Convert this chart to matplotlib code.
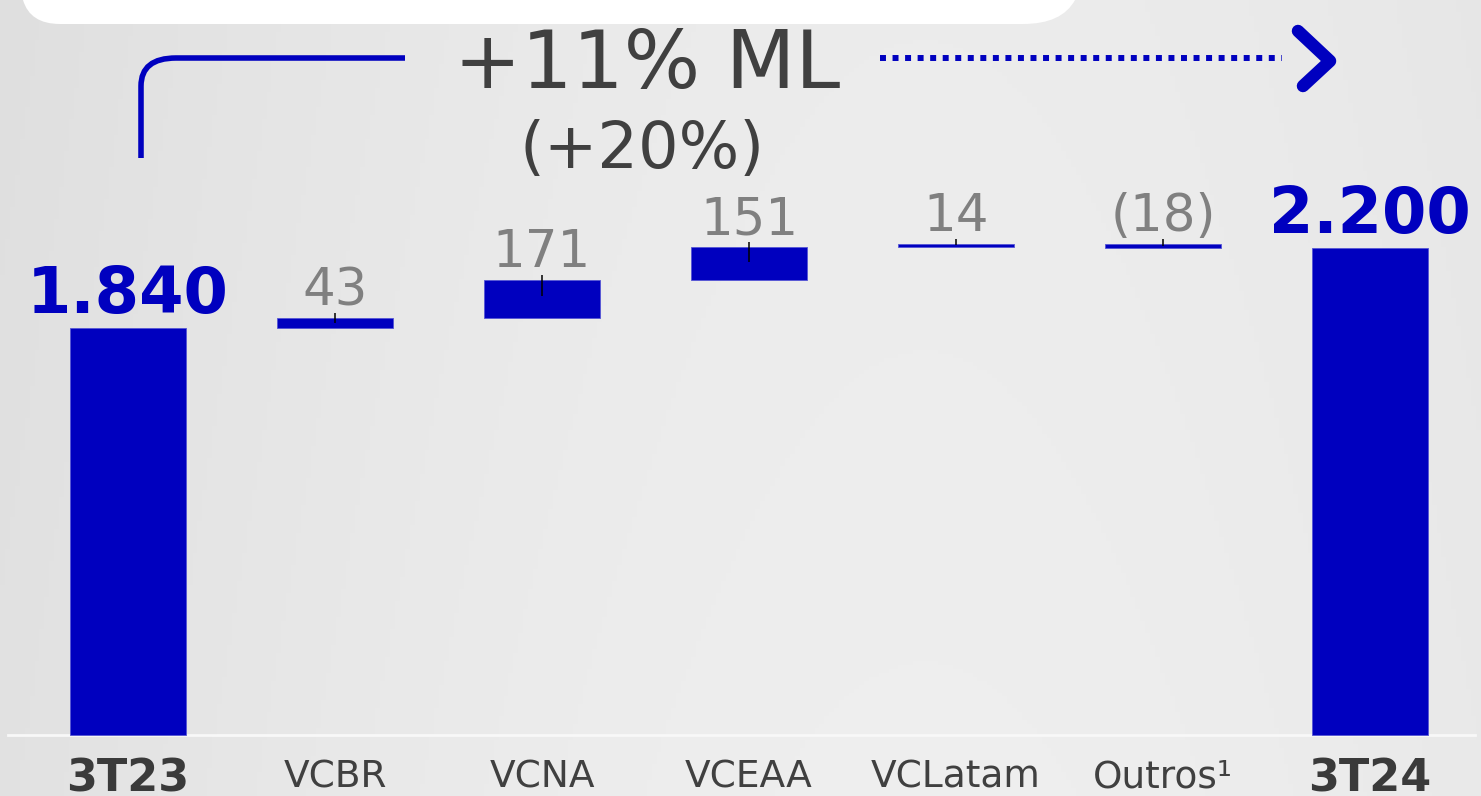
import numpy as np
import matplotlib.pyplot as plt
from matplotlib.path import Path
from matplotlib.patches import PathPatch

categories = ["3T23", "VCBR", "VCNA", "VCEAA", "VCLatam", "Outros\u00b9", "3T24"]
values = [1840, 43, 171, 151, 14, -18, 2200]
is_total = [True, False, False, False, False, False, True]
value_labels = ["1.840", "43", "171", "151", "14", "(18)", "2.200"]
headline = "+11% ML"
subline = "(+20%)"

BLUE = "#0000bf"
W, H = 1481, 796
S = 0.2213          # pixels per unit
BASE = 735          # baseline pixel row
STEP = 207          # pixels between categories
X0 = 128            # pixel of first category

fig = plt.figure(figsize=(W / 100, H / 100), dpi=100)

# background + decorations in pixel space
bg = fig.add_axes([0, 0, 1, 1])
bg.set_xlim(0, W)
bg.set_ylim(H, 0)
bg.axis("off")
gx = np.linspace(0, 1, 300)
gy = np.linspace(0, 1, 200)[:, None]
grad = 0.885 + 0.05 * np.sin(np.pi * gx * 0.8) - 0.01 * (1 - gy)
bg.imshow(np.dstack([grad] * 3).clip(0, 1), extent=[0, W, H, 0], aspect="auto", zorder=0)

# white panel peeking in at the top
box = Path([(23, -5), (23, 0), (30, 24), (60, 24), (1023, 24), (1062, 24), (1075, 0),
            (1075, -5), (23, -5)],
           [Path.MOVETO, Path.LINETO, Path.CURVE3, Path.CURVE3, Path.LINETO,
            Path.CURVE3, Path.CURVE3, Path.LINETO, Path.CLOSEPOLY])
bg.add_patch(PathPatch(box, fc="white", ec="none", zorder=1))

# bracket on the left
verts = [(141, 158), (141, 86), (141, 58), (176, 58), (405, 58)]
codes = [Path.MOVETO, Path.LINETO, Path.CURVE3, Path.CURVE3, Path.LINETO]
bg.add_patch(PathPatch(Path(verts, codes), fc="none", ec=BLUE, lw=4, zorder=2,
                       capstyle="butt"))
# dotted arrow
bg.plot([880, 1282], [58, 58], color=BLUE, lw=4.3, dashes=(1.0, 1.1), zorder=2,
        solid_capstyle="butt", dash_capstyle="butt")
bg.plot([1298, 1330, 1303], [31, 61, 86], color=BLUE, lw=9, solid_capstyle="round",
        solid_joinstyle="round", zorder=2)

bg.text(647, 88, headline, fontsize=58, color="#404040", ha="center", va="baseline", zorder=3)
bg.text(642, 168, subline, fontsize=46, color="#404040", ha="center", va="baseline", zorder=3)

# waterfall
ax = fig.add_axes([0, 0, 1, 1])
ax.patch.set_alpha(0)
ax.set_xlim(-X0 / STEP, (W - X0) / STEP)
ax.set_ylim(-(H - BASE) / S, BASE / S)
ax.axis("off")

px = 1 / S
x = np.arange(len(categories))
running = 0
bottoms, heights = [], []
for v, tot in zip(values, is_total):
    if tot:
        bottoms.append(0)
        heights.append(v)
        running = v
    else:
        bottoms.append(min(running, running + v))
        heights.append(abs(v))
        running += v

ax.bar(x, heights, bottom=bottoms, width=0.556, color=BLUE, edgecolor="#5555d5",
       linewidth=0.6, zorder=3)
ax.axhline(0, xmin=8 / W, xmax=1475 / W, color="#f8f8f8", lw=2, zorder=2)

for i, (b, h, tot, lab) in enumerate(zip(bottoms, heights, is_total, value_labels)):
    top = b + h
    if tot:
        ax.text(i, top + 15 * px, lab, fontsize=46, fontweight="bold", color=BLUE,
                ha="center", va="baseline", zorder=4)
    else:
        ax.vlines(i, top - min(0.45 * h, 16 * px), top + 5 * px, color="black",
                  lw=1.1, zorder=4)
        ax.text(i, top + 13 * px, lab, fontsize=37, color="#808080",
                ha="center", va="baseline", zorder=4)

for i, (c, tot) in enumerate(zip(categories, is_total)):
    if tot:
        ax.text(i, -56 * px, c, fontsize=32, fontweight="bold", color="#3a3a3a",
                ha="center", va="baseline")
    else:
        ax.text(i, -53 * px, c, fontsize=27, color="#404040", ha="center", va="baseline")

fig.savefig("out.png", dpi=100)
